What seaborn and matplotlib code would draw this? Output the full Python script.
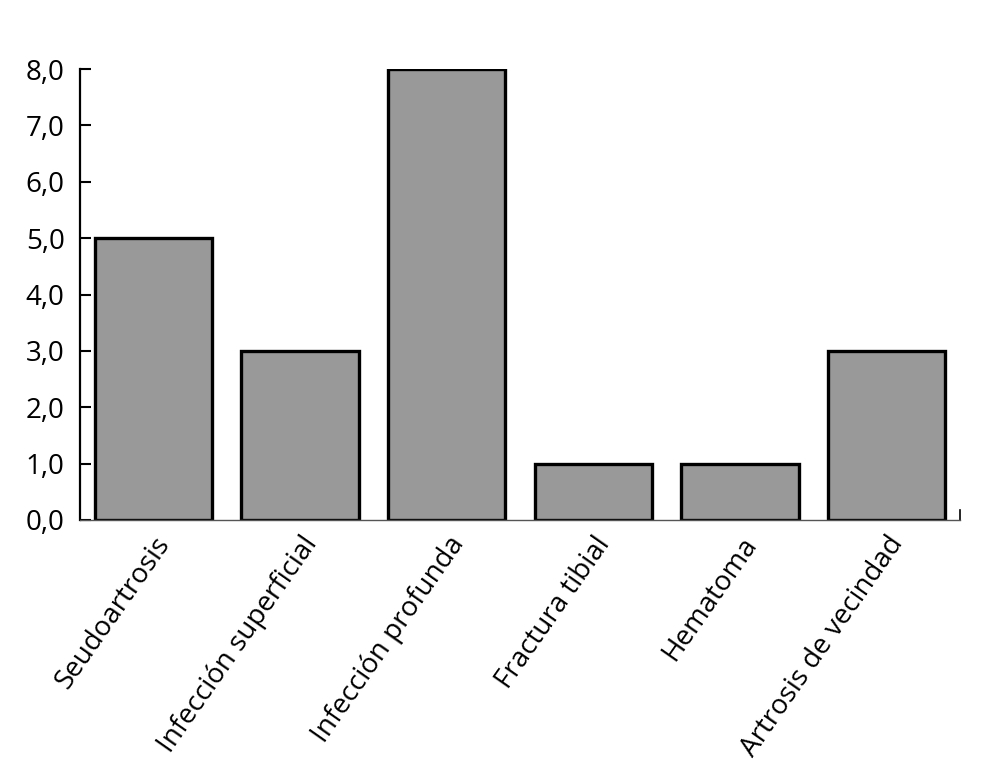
import seaborn as sns
import matplotlib.pyplot as plt
import matplotlib.ticker as mticker

# Complicaciones
categorias = ["Seudoartrosis", "Infección superficial", "Infección profunda",
              "Fractura tibial", "Hematoma", "Artrosis de vecindad"]
valores = [5.0, 3.0, 8.0, 1.0, 1.0, 3.0]
yticks = [0, 1, 2, 3, 4, 5, 6, 7, 8]

sns.set_style("white")
plt.rcParams['font.family'] = ['Open Sans', 'DejaVu Sans']

fig = plt.figure(figsize=(9.86, 7.78), dpi=100)
ax = fig.add_axes([80/986, 1-520/778, 880/986, 451/778])

sns.barplot(x=categorias, y=valores, color="#999999", saturation=1,
            edgecolor="black", linewidth=2.4, width=0.8, ax=ax)

ax.set_xlim(-0.5, len(categorias) - 0.5)
ax.set_ylim(0, 8)
ax.set_yticks(yticks)
ax.yaxis.set_major_formatter(mticker.FuncFormatter(lambda v, p: f"{v:.1f}".replace(".", ",")))
ax.tick_params(axis="y", direction="in", length=8, width=1.5, labelsize=20,
               pad=11, left=True, colors="black")
ax.tick_params(axis="x", length=0, labelsize=20, pad=8, labelcolor="black")
plt.setp(ax.get_xticklabels(), rotation=55, ha="right", rotation_mode="anchor")

ax.spines["top"].set_visible(False)
ax.spines["left"].set_linewidth(1.6)
ax.spines["left"].set_color("black")
ax.spines["bottom"].set_linewidth(1.0)
ax.spines["bottom"].set_color("#555555")
ax.spines["right"].set_bounds(0, 0.18)
ax.spines["right"].set_linewidth(1.2)
ax.spines["right"].set_color("black")
ax.set_xlabel("")
ax.set_ylabel("")

fig.savefig("out.png", dpi=100)
